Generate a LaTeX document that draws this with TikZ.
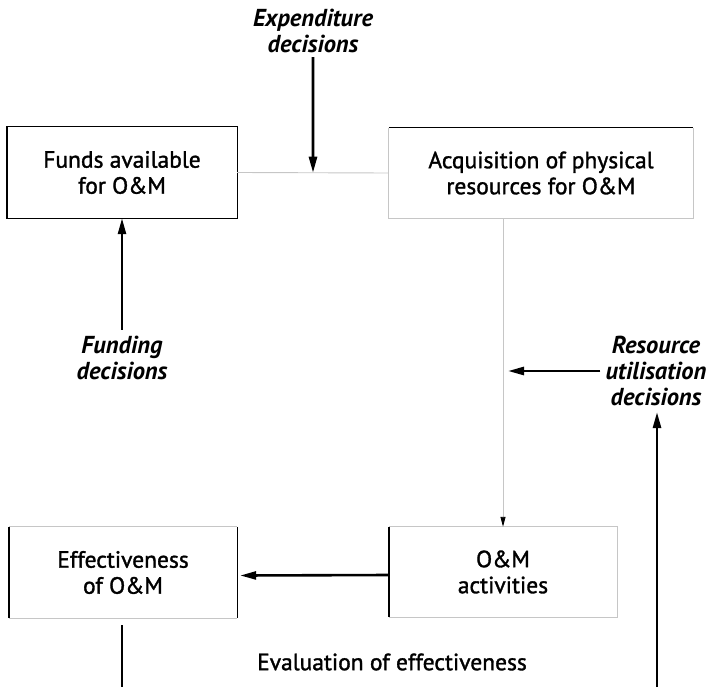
\documentclass[tikz,border=0pt]{standalone}
\usepackage{fontspec}
\setmainfont{PT Sans}
\newfontfamily\boxfont{PT Sans}[FakeBold=1.4]
\newfontfamily\labfont{PT Sans Bold Italic}
\usetikzlibrary{arrows.meta,calc}
\begin{document}
\begin{tikzpicture}[x=1pt,y=-1pt,
  box/.style={rectangle,draw=none,align=center,inner sep=0pt,font=\fontsize{23.5}{26}\boxfont},
  lab/.style={align=center,inner sep=0pt,font=\fontsize{24.5}{26}\labfont},
  solid line/.style={line width=1.4pt,black},
  faded/.style={line width=0.9pt,gray!45},
  arr/.style={line width=2.6pt,-{Triangle[length=16pt,width=8pt]}},
  plain/.style={line width=2.6pt}]
\useasboundingbox (0,0) rectangle (711,687);
% boxes
\node[box,minimum width=230pt,minimum height=91pt] (funds) at (122,172.5) {Funds available\\for O\&M};
\node[box,minimum width=304pt,minimum height=90pt] (acq) at (541,173) {Acquisition of physical\\resources for O\&M};
\node[box,minimum width=228pt,minimum height=91pt] (eff) at (123,572.5) {Effectiveness\\of O\&M};
\node[box,minimum width=228pt,minimum height=90pt] (om) at (503,572) {O\&M\\activities};
% box outlines
\draw[solid line] (funds.north west) rectangle (funds.south east);
\draw[faded] (acq.north east) -- (acq.south east) -- (acq.south west) -- (acq.north west);
\draw[solid line] (acq.north west) -- (acq.north east);
\draw[faded] (eff.north west) -- (eff.north east);
\draw[faded] (eff.south west) -- (eff.south east);
\draw[solid line] (eff.north west) -- (eff.south west);
\draw[solid line] (eff.north east) -- (eff.south east);
\draw[faded] (om.north west) -- (om.north east) -- (om.south east) -- (om.south west);
\draw[solid line] (om.north west) -- (om.south west);
% labels
\node[lab] (exp) at (313,31) {Expenditure\\decisions};
\node[lab] (fund) at (122,358) {Funding\\decisions};
\node[lab] (res) at (656,371) {Resource\\utilisation\\decisions};
\node[box] (eval) at (392,662) {Evaluation of effectiveness};
% coordinates
\coordinate (link) at ($(funds.east)!0.5!(acq.west)$);
\coordinate (vtop) at (acq.south -| om.north);
\coordinate (vmid) at (res.west -| om.north);
\coordinate (effbot) at (122,687);
\coordinate (resbot) at (657,687);
% connectors
\draw[faded] (funds.east) -- (acq.west);
\draw[arr] (exp.south) ++(0,4) coordinate (exps) (exps) -- (link);
\draw[arr] (fund.north) ++(0,-6) coordinate (fundn) (fundn) -- (funds.south);
\draw[faded,-{Triangle[length=10pt,width=5pt,color=black]}] (vtop) -- (om.north);
\draw[arr] (res.west) ++(-5,0) coordinate (resw) (resw) -- ($(vmid)+(5,0)$);
\draw[arr] (resbot) -- ($(res.south)+(1,6)$);
\draw[arr] (om.west) ++(0,3) coordinate (omw) (omw) -- ($(eff.east)+(3,3)$);
\draw[plain] ($(eff.south)+(-1,7)$) -- (effbot);
\end{tikzpicture}
\end{document}
